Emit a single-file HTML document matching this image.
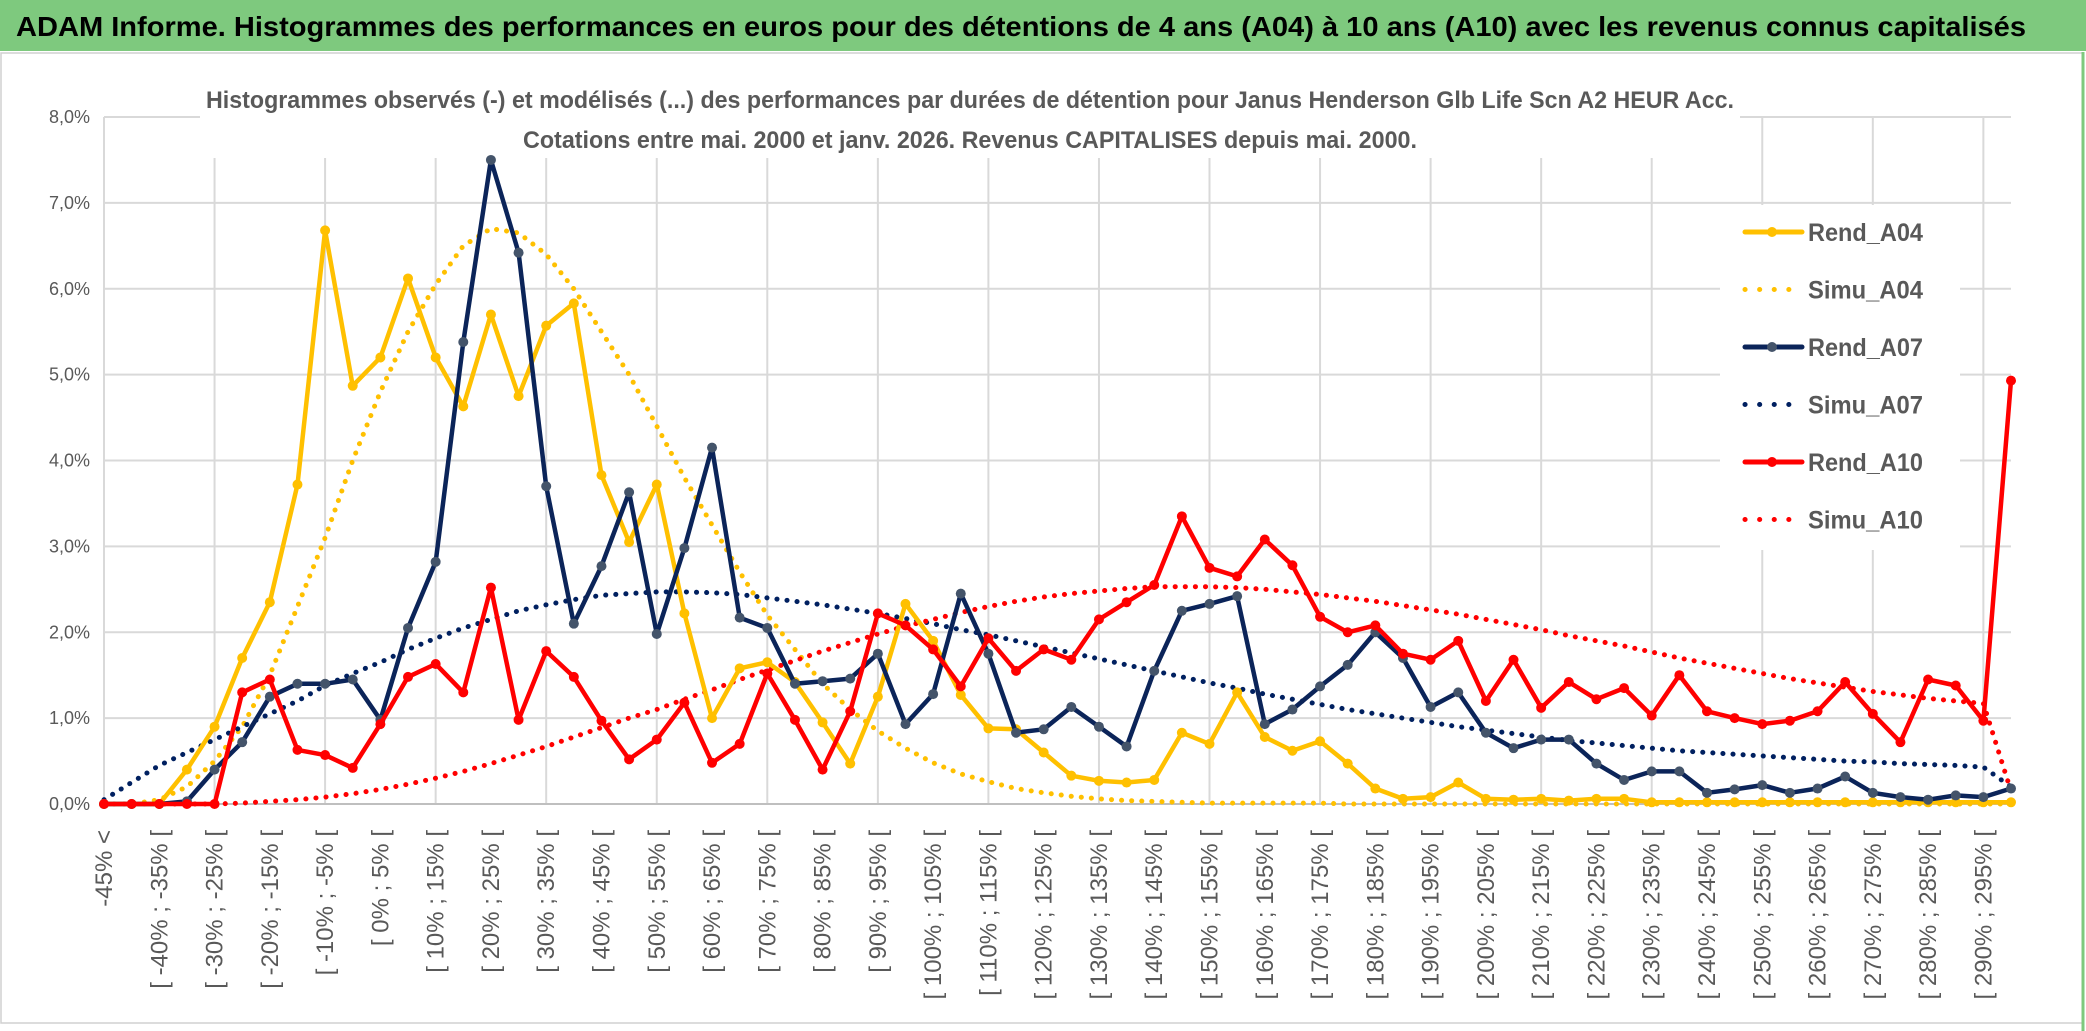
<!DOCTYPE html>
<html><head><meta charset="utf-8"><style>
html,body{margin:0;padding:0;background:#fff;}
svg{display:block;}
text{font-family:"Liberation Sans",sans-serif;}
</style></head><body>
<svg id="chart" width="2086" height="1031" viewBox="0 0 2086 1031" xmlns="http://www.w3.org/2000/svg">
<rect x="0" y="0" width="2086" height="1031" fill="#fff"/>
<rect x="0" y="0" width="2086" height="51" fill="#7EC97E"/>
<text x="16" y="36" font-size="28" font-weight="bold" fill="#000" textLength="2010" lengthAdjust="spacingAndGlyphs">ADAM Informe. Histogrammes des performances en euros pour des détentions de 4 ans (A04) à 10 ans (A10) avec les revenus connus capitalisés</text>
<rect x="1" y="53" width="2082" height="970" fill="none" stroke="#d0d0d0" stroke-width="1.5"/>
<line x1="2083" y1="52" x2="2083" y2="1031" stroke="#7EC97E" stroke-width="3"/>
<g id="grid"></g>
<g id="yaxis"></g>
<g id="xaxis"></g>
<rect x="200" y="78" width="1540" height="80" fill="#fff"/>
<text x="206" y="108" font-size="24" font-weight="bold" fill="#595959" textLength="1528" lengthAdjust="spacingAndGlyphs">Histogrammes observés (-) et modélisés (...) des performances par durées de détention pour Janus Henderson Glb Life Scn A2 HEUR Acc.</text>
<text x="523" y="148" font-size="24" font-weight="bold" fill="#595959" textLength="894" lengthAdjust="spacingAndGlyphs">Cotations entre mai. 2000 et janv. 2026. Revenus CAPITALISES depuis mai. 2000.</text>
<g id="series"></g>
<g id="legend"></g>
</svg>
<script>
const rendA04 = [0,0,0,0.4,0.9,1.7,2.35,3.72,6.68,4.87,5.2,6.12,5.2,4.63,5.7,4.75,5.57,5.83,3.83,3.05,3.72,2.22,1.0,1.58,1.65,1.42,0.95,0.47,1.25,2.33,1.9,1.27,0.88,0.87,0.6,0.33,0.27,0.25,0.28,0.83,0.7,1.3,0.78,0.62,0.73,0.47,0.18,0.06,0.08,0.25,0.06,0.05,0.06,0.04,0.06,0.06,0.02,0.02,0.02,0.02,0.02,0.02,0.02,0.02,0.02,0.02,0.02,0.02,0.02,0.02];
const simuA04 = [0,0,0.05,0.2,0.5,0.9,1.5,2.3,3.1,4.0,4.8,5.5,6.05,6.5,6.7,6.65,6.4,6.0,5.5,5.0,4.4,3.8,3.25,2.7,2.2,1.8,1.4,1.1,0.85,0.65,0.48,0.35,0.26,0.18,0.13,0.09,0.06,0.04,0.03,0.02,0.01,0.01,0.01,0.01,0.01,0,0,0,0,0,0,0,0,0,0,0,0,0,0,0,0,0,0,0,0,0,0,0,0,0];
const rendA07 = [0,0,0,0.03,0.4,0.72,1.25,1.4,1.4,1.45,0.98,2.05,2.82,5.38,7.5,6.42,3.7,2.1,2.77,3.63,1.98,2.98,4.15,2.17,2.05,1.4,1.43,1.46,1.75,0.93,1.28,2.45,1.75,0.83,0.87,1.13,0.9,0.67,1.55,2.25,2.33,2.42,0.93,1.1,1.37,1.62,2.0,1.7,1.13,1.3,0.83,0.65,0.75,0.75,0.47,0.28,0.38,0.38,0.13,0.17,0.22,0.13,0.18,0.32,0.13,0.08,0.05,0.1,0.08,0.18];
const simuA07 = [0.05,0.25,0.45,0.6,0.75,0.9,1.05,1.2,1.38,1.52,1.65,1.8,1.93,2.05,2.15,2.25,2.32,2.38,2.43,2.45,2.47,2.47,2.46,2.44,2.4,2.36,2.32,2.27,2.22,2.16,2.1,2.03,1.97,1.9,1.83,1.76,1.69,1.62,1.55,1.48,1.41,1.35,1.28,1.22,1.16,1.1,1.05,1.0,0.95,0.9,0.86,0.82,0.78,0.74,0.71,0.68,0.65,0.62,0.6,0.58,0.56,0.54,0.52,0.5,0.49,0.47,0.46,0.45,0.43,0.2];
const rendA10 = [0,0,0,0,0,1.3,1.45,0.63,0.57,0.42,0.93,1.48,1.63,1.3,2.52,0.98,1.78,1.48,0.97,0.52,0.75,1.18,0.48,0.7,1.52,0.98,0.4,1.08,2.22,2.08,1.8,1.37,1.93,1.55,1.8,1.68,2.15,2.35,2.55,3.35,2.75,2.65,3.08,2.78,2.18,2.0,2.08,1.75,1.68,1.9,1.2,1.68,1.12,1.42,1.22,1.35,1.03,1.5,1.08,1.0,0.93,0.97,1.08,1.42,1.05,0.72,1.45,1.38,0.97,4.93];
const simuA10 = [0,0,0,0,0,0.01,0.03,0.05,0.08,0.12,0.17,0.23,0.3,0.38,0.47,0.57,0.67,0.78,0.89,1.0,1.1,1.22,1.33,1.45,1.56,1.67,1.78,1.88,1.98,2.07,2.15,2.23,2.3,2.36,2.41,2.45,2.48,2.51,2.53,2.53,2.53,2.52,2.5,2.47,2.44,2.4,2.36,2.31,2.26,2.21,2.15,2.09,2.03,1.96,1.9,1.84,1.77,1.7,1.64,1.58,1.52,1.46,1.41,1.36,1.31,1.27,1.23,1.2,1.17,0.15];
const yTicks = [0,1,2,3,4,5,6,7,8];
const yTickLabels = ["0,0%","1,0%","2,0%","3,0%","4,0%","5,0%","6,0%","7,0%","8,0%"];
const categories = ["-45% <"];
for (let i = 1; i < 70; i++) { const a = -45 + 5*(i-1); categories.push("[ " + a + "% ; " + (a+5) + "% ["); }

const NS = "http://www.w3.org/2000/svg";
const X0 = 104, X1 = 2011, Y0 = 804, Y8 = 117;
const xs = i => X0 + i * (X1 - X0) / (categories.length - 1);
const ys = v => Y0 - v * (Y0 - Y8) / 8;
function mk(tag, attrs, parent) { const e = document.createElementNS(NS, tag); for (const k in attrs) e.setAttribute(k, attrs[k]); parent.appendChild(e); return e; }

const grid = document.getElementById('grid');
yTicks.forEach(t => {
  const l = mk('line', {x1: X0, x2: X1, y1: ys(t), y2: ys(t), stroke: '#d9d9d9', 'stroke-width': 2}, grid);
  
  
});
for (let i = 4; i < categories.length; i += 4) {
  const l = mk('line', {x1: xs(i), x2: xs(i), y1: Y8, y2: Y0, stroke: '#d9d9d9', 'stroke-width': 2}, grid);
  
  
}
const yax = document.getElementById('yaxis');
yTicks.forEach((t, k) => {
  const tx = mk('text', {x: 90, y: ys(t) + 6, 'font-size': 18, fill: '#595959', 'text-anchor': 'end'}, yax);
  tx.textContent = yTickLabels[k];
  
  
});
const al = mk('line', {x1: X0, x2: X0, y1: Y8, y2: Y0, stroke: '#d9d9d9', 'stroke-width': 2}, yax);


const xax = document.getElementById('xaxis');
const bl = mk('line', {x1: X0, x2: X1, y1: Y0, y2: Y0, stroke: '#bfbfbf', 'stroke-width': 2}, xax);


for (let i = 0; i < categories.length; i += 2) {
  const x = xs(i) + 8, y = 830;
  const tx = mk('text', {x: x, y: y, 'font-size': 24, fill: '#595959', 'text-anchor': 'end', transform: 'rotate(-90 ' + x + ' ' + y + ')'}, xax);
  tx.textContent = categories[i];
  
  
}

const seriesDefs = [
  {name: 'simu-a04', data: simuA04, color: '#FFC000', dotted: true},
  {name: 'simu-a07', data: simuA07, color: '#002060', dotted: true},
  {name: 'simu-a10', data: simuA10, color: '#FF0000', dotted: true},
  {name: 'rend-a04', data: rendA04, color: '#FFC000', marker: '#FFC000'},
  {name: 'rend-a07', data: rendA07, color: '#0B2459', marker: '#44546A'},
  {name: 'rend-a10', data: rendA10, color: '#FF0000', marker: '#FF0000'}
];
const sg = document.getElementById('series');
seriesDefs.forEach(s => {
  const g = mk('g', {}, sg);
  
  
  const pts = s.data.map((v, i) => xs(i).toFixed(1) + ',' + ys(v).toFixed(1)).join(' ');
  const pl = mk('polyline', {points: pts, fill: 'none', stroke: s.color, 'stroke-width': s.dotted ? 5 : 4.5, 'stroke-linejoin': 'round', 'stroke-linecap': 'round'}, g);
  if (s.dotted) pl.setAttribute('stroke-dasharray', '0.1 10');
  
  
  if (s.marker) {
    s.data.forEach((v, i) => {
      const c = mk('circle', {cx: xs(i), cy: ys(v), r: 5, fill: s.marker}, g);
      
      
    });
  }
});

const legendItems = [
  {label: 'Rend_A04', color: '#FFC000', dotted: false, marker: '#FFC000'},
  {label: 'Simu_A04', color: '#FFC000', dotted: true},
  {label: 'Rend_A07', color: '#0B2459', dotted: false, marker: '#44546A'},
  {label: 'Simu_A07', color: '#002060', dotted: true},
  {label: 'Rend_A10', color: '#FF0000', dotted: false, marker: '#FF0000'},
  {label: 'Simu_A10', color: '#FF0000', dotted: true}
];
const lg = document.getElementById('legend');
const lbg = mk('rect', {x: 1720, y: 205, width: 240, height: 345, fill: '#fff'}, lg);


legendItems.forEach((it, k) => {
  const y = 232 + k * 57.5;
  const g = mk('g', {}, lg);
  
  
  const l = mk('line', {x1: 1745, x2: 1802, y1: y, y2: y, stroke: it.color, 'stroke-width': 5, 'stroke-linecap': 'round'}, g);
  if (it.dotted) l.setAttribute('stroke-dasharray', '0.1 14.5');
  
  
  if (it.marker) {
    const c = mk('circle', {cx: 1772, cy: y, r: 5, fill: it.marker}, g);
    
    
  }
  const t = mk('text', {x: 1808, y: y + 9, 'font-size': 25, fill: '#595959', 'font-weight': 'bold', textLength: 115, lengthAdjust: 'spacingAndGlyphs'}, g);
  t.textContent = it.label;
  
  
});
</script>
</body></html>
